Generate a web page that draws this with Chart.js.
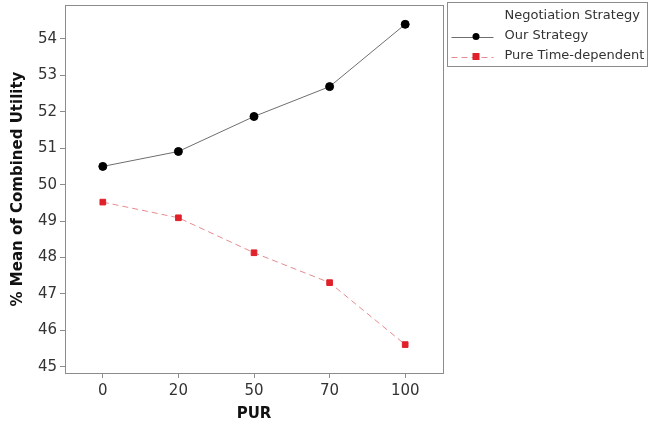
<!DOCTYPE html>
<html>
<head>
<meta charset="utf-8">
<script src="https://cdn.jsdelivr.net/npm/chart.js@4/dist/chart.umd.min.js"></script>
<style>
  html, body { margin: 0; padding: 0; background: #fff; }
  #wrap { width: 649px; height: 423px; position: relative; }
</style>
</head>
<body>
<div id="wrap"><canvas id="c"></canvas></div>
<script>
// data
const purLabels = ['0', '20', '50', '70', '100'];
const ourStrategy = [50.50, 50.91, 51.87, 52.69, 54.40];
const pureTimeDependent = [49.52, 49.09, 48.13, 47.31, 45.61];
const yTicks = [45, 46, 47, 48, 49, 50, 51, 52, 53, 54];

const FONT = 'Tahoma, "DejaVu Sans", Verdana, sans-serif';
const AXIS = '#8c8c8c';

// plot frame + legend box, minitab style
const frameAndLegend = {
  id: 'frameAndLegend',
  beforeDatasetsDraw(chart) {
    const { ctx, chartArea: a } = chart;
    ctx.save();
    ctx.strokeStyle = AXIS;
    ctx.lineWidth = 1;
    ctx.strokeRect(Math.round(a.left) + 0.5, Math.round(a.top) + 0.5,
      Math.round(a.right - a.left), Math.round(a.bottom - a.top));
    ctx.restore();
  },
  afterDraw(chart) {
    const { ctx, chartArea: a } = chart;
    const x0 = Math.round(a.right) + 4.5, y0 = 2.5, w = 200, h = 64;
    ctx.save();
    ctx.strokeStyle = AXIS;
    ctx.lineWidth = 1;
    ctx.strokeRect(x0, y0, w, h);

    ctx.font = '13px ' + FONT;
    ctx.fillStyle = '#333';
    ctx.textBaseline = 'middle';
    ctx.textAlign = 'left';
    const tx = x0 + 57;
    ctx.fillText('Negotiation Strategy', tx, 16);
    chart.data.datasets.forEach((ds, i) => {
      const y = 36.5 + i * 20;
      ctx.strokeStyle = ds.borderColor;
      ctx.lineWidth = 1;
      ctx.setLineDash(ds.borderDash || []);
      ctx.beginPath();
      ctx.moveTo(x0 + 4, Math.round(y) + 0.5);
      ctx.lineTo(x0 + 46, Math.round(y) + 0.5);
      ctx.stroke();
      ctx.setLineDash([]);
      ctx.fillStyle = ds.pointBackgroundColor;
      if (ds.pointStyle === 'rect') {
        ctx.fillRect(x0 + 25, y - 3.5, 7, 7);
      } else {
        ctx.beginPath();
        ctx.arc(x0 + 28.5, y, 3.5, 0, Math.PI * 2);
        ctx.fill();
      }
      ctx.fillStyle = '#333';
      ctx.fillText(ds.label, tx, y - 1);
    });
    ctx.restore();
  }
};

new Chart(document.getElementById('c'), {
  type: 'line',
  data: {
    labels: purLabels,
    datasets: [{
      label: 'Our Strategy',
      data: ourStrategy,
      borderColor: '#6e6e6e',
      borderWidth: 1,
      pointBackgroundColor: '#000',
      pointBorderColor: '#000',
      pointStyle: 'circle',
      pointRadius: 4,
      tension: 0
    }, {
      label: 'Pure Time-dependent',
      data: pureTimeDependent,
      borderColor: '#e58a8f',
      borderWidth: 1,
      borderDash: [6, 4],
      pointBackgroundColor: '#e0202a',
      pointBorderColor: '#e0202a',
      pointStyle: 'rect',
      pointRadius: 4,
      tension: 0
    }]
  },
  options: {
    responsive: true,
    maintainAspectRatio: false,
    animation: false,
    layout: { padding: { top: 4, right: 206, left: 0, bottom: 0 } },
    plugins: {
      legend: { display: false },
      tooltip: { enabled: false }
    },
    scales: {
      x: {
        offset: true,
        grid: { drawOnChartArea: false, drawTicks: true, tickLength: 5, color: AXIS, offset: false },
        border: { display: false },
        ticks: { font: { size: 15, family: FONT }, color: '#333', padding: 4 },
        title: { display: true, text: 'PUR', font: { size: 15, weight: 'bold', family: FONT }, color: '#111', padding: { top: 0, bottom: 0 } },
        afterFit: s => { s.height = 50; }
      },
      y: {
        min: 44.83,
        max: 54.93,
        afterBuildTicks: s => { s.ticks = yTicks.map(v => ({ value: v })); },
        grid: { drawOnChartArea: false, drawTicks: true, tickLength: 5, color: AXIS },
        border: { display: false },
        ticks: { font: { size: 15, family: FONT }, color: '#333', padding: 3 },
        title: { display: true, text: '% Mean of Combined Utility', font: { size: 15, weight: 'bold', family: FONT }, color: '#111', padding: { top: 9, bottom: 0 } },
        afterFit: s => { s.width = 65; s.paddingTop = 0; s.paddingBottom = 0; }
      }
    }
  },
  plugins: [frameAndLegend]
});
</script>
</body>
</html>
